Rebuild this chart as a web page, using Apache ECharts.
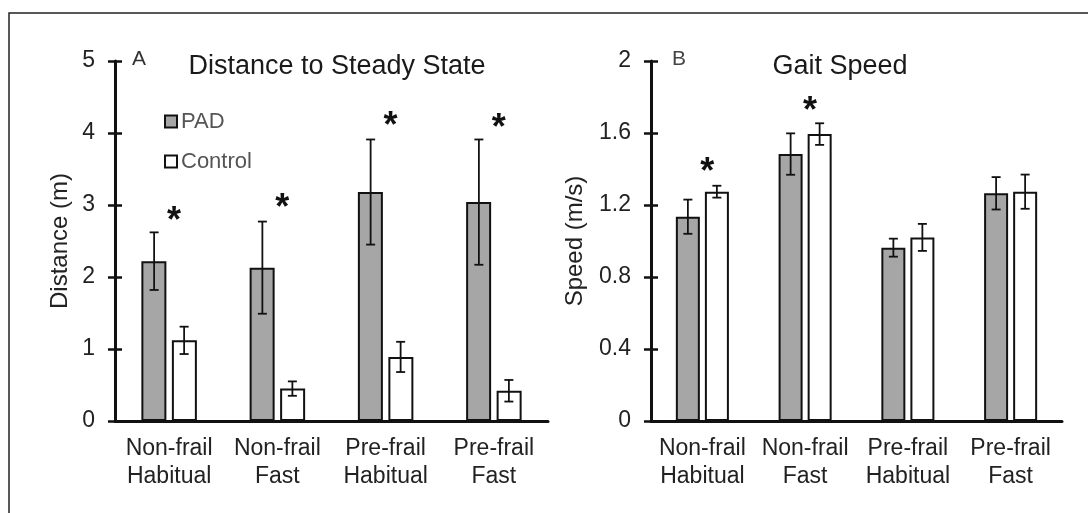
<!DOCTYPE html>
<html>
<head>
<meta charset="utf-8">
<script src="https://cdn.jsdelivr.net/npm/echarts@6/dist/echarts.min.js"></script>
<style>
html,body{margin:0;padding:0;background:#fff;}
#c{width:1088px;height:513px;}
</style>
</head>
<body>
<div id="c"></div>
<script>
// ---- data ----
var categories = ['Non-frail\nHabitual', 'Non-frail\nFast', 'Pre-frail\nHabitual', 'Pre-frail\nFast'];
var seriesNames = ['PAD', 'Control'];

var distPAD = [2.22, 2.13, 3.18, 3.04];
var distPADErr = [0.40, 0.64, 0.73, 0.87];
var distCtrl = [1.12, 0.45, 0.89, 0.42];
var distCtrlErr = [0.19, 0.10, 0.21, 0.15];
var distStarY = [2.86, 3.04, 4.18, 4.15];

var speedPAD = [1.135, 1.483, 0.963, 1.265];
var speedPADErr = [0.095, 0.115, 0.05, 0.09];
var speedCtrl = [1.274, 1.594, 1.02, 1.274];
var speedCtrlErr = [0.033, 0.06, 0.075, 0.095];
var speedStarY = [1.415, 1.756, null, null];

var distTicks = [0, 1, 2, 3, 4, 5];
var speedTicks = [0, 0.4, 0.8, 1.2, 1.6, 2];

// ---- styling ----
var FONT = '"Liberation Sans", Arial, sans-serif';
var PAD_COLOR = '#a6a6a6';
var chart = echarts.init(document.getElementById('c'), null, {renderer: 'canvas'});

function errData(vals, errs) {
  return vals.map(function (v, i) { return [i, v, errs[i]]; });
}
function starData(ys) {
  var out = [];
  ys.forEach(function (y, i) { if (y != null) out.push([i, y]); });
  return out;
}
function errSeries(name, xi, yi, data, offset) {
  return {
    type: 'custom', name: name + ' err', xAxisIndex: xi, yAxisIndex: yi, z: 10,
    data: data, silent: true,
    renderItem: function (params, api) {
      var c = api.value(0), v = api.value(1), e = api.value(2);
      var top = api.coord([c, v + e]);
      var bot = api.coord([c, v - e]);
      var x = top[0] + offset;
      var hw = 4.5;
      var st = {stroke: '#111', lineWidth: 1.8};
      return {type: 'group', children: [
        {type: 'line', shape: {x1: x, y1: top[1], x2: x, y2: bot[1]}, style: st},
        {type: 'line', shape: {x1: x - hw, y1: top[1], x2: x + hw, y2: top[1]}, style: st},
        {type: 'line', shape: {x1: x - hw, y1: bot[1], x2: x + hw, y2: bot[1]}, style: st}
      ]};
    }
  };
}
function starSeries(xi, yi, data) {
  return {
    type: 'custom', xAxisIndex: xi, yAxisIndex: yi, z: 11, silent: true, data: data,
    renderItem: function (params, api) {
      var p = api.coord([api.value(0), api.value(1)]);
      return {type: 'text', x: p[0] + 5, y: p[1] + 7,
        style: {text: '*', font: 'bold 36px ' + FONT, fill: '#111', align: 'center', verticalAlign: 'middle'}};
    }
  };
}
function barSeries(name, xi, yi, data, color, width, gap) {
  return {
    type: 'bar', name: name, xAxisIndex: xi, yAxisIndex: yi, data: data,
    barWidth: width, barGap: gap,
    itemStyle: {color: color, borderColor: '#111', borderWidth: 2},
    emphasis: {disabled: true}, z: 5
  };
}
function xAxis(gi) {
  return {
    type: 'category', gridIndex: gi, data: categories,
    axisLine: {lineStyle: {color: '#111', width: 3}},
    axisTick: {show: false},
    axisLabel: {color: '#222', fontSize: 23, fontFamily: FONT, lineHeight: 28, margin: 14, interval: 0}
  };
}
function yAxis(gi, ticks, name, gap, inner) {
  var n = ticks.length;
  return {
    type: 'value', gridIndex: gi, position: 'left', min: ticks[0], max: ticks[n - 1], interval: ticks[1] - ticks[0],
    name: inner ? '' : name, nameLocation: 'middle', nameGap: gap, nameRotate: 90,
    nameTextStyle: {color: '#222', fontSize: 24, fontFamily: FONT},
    splitLine: {show: false},
    axisLine: {show: !inner, lineStyle: {color: '#111', width: 3}},
    axisTick: {show: true, inside: !!inner, length: 7, lineStyle: {color: '#111', width: 2.5}},
    axisLabel: {show: !inner, color: '#222', fontSize: 23, fontFamily: FONT, margin: 20,
      formatter: function (v) { return String(Math.round(v * 10) / 10); }}
  };
}

var option = {
  animation: false,
  backgroundColor: '#fff',
  grid: [
    {left: 115, top: 61, width: 433, height: 360},
    {left: 651, top: 61, width: 411, height: 360}
  ],
  xAxis: [xAxis(0), xAxis(1)],
  yAxis: [
    yAxis(0, distTicks, 'Distance (m)', 43, false),
    yAxis(1, speedTicks, 'Speed (m/s)', 64, false),
    yAxis(0, distTicks, '', 0, true),
    yAxis(1, speedTicks, '', 0, true)
  ],
  legend: {
    data: seriesNames, orient: 'vertical', left: 159, top: 103,
    itemWidth: 12, itemHeight: 12, itemGap: 13, icon: 'rect',
    textStyle: {color: '#555', fontSize: 22, fontFamily: FONT, lineHeight: 27, padding: [0, 0, 0, -1]},
    selectedMode: false
  },
  graphic: [
    {type: 'rect', shape: {x: 9, y: 13, width: 1100, height: 520}, style: {fill: 'none', stroke: '#222', lineWidth: 1.5}, silent: true},
    {type: 'text', x: 337, y: 67, style: {text: 'Distance to Steady State', font: '27px ' + FONT, fill: '#1a1a1a', align: 'center', verticalAlign: 'middle'}},
    {type: 'text', x: 840, y: 67, style: {text: 'Gait Speed', font: '27px ' + FONT, fill: '#1a1a1a', align: 'center', verticalAlign: 'middle'}},
    {type: 'text', x: 139, y: 59, style: {text: 'A', font: '21px ' + FONT, fill: '#333', align: 'center', verticalAlign: 'middle'}},
    {type: 'text', x: 679, y: 59, style: {text: 'B', font: '21px ' + FONT, fill: '#444', align: 'center', verticalAlign: 'middle'}}
  ],
  series: [
    barSeries('PAD', 0, 0, distPAD, PAD_COLOR, 25, '22%'),
    barSeries('Control', 0, 0, distCtrl, '#ffffff', 25, '22%'),
    errSeries('PAD', 0, 0, errData(distPAD, distPADErr), -15),
    errSeries('Control', 0, 0, errData(distCtrl, distCtrlErr), 15),
    starSeries(0, 0, starData(distStarY)),
    barSeries('PAD', 1, 1, speedPAD, PAD_COLOR, 24, '21%'),
    barSeries('Control', 1, 1, speedCtrl, '#ffffff', 24, '21%'),
    errSeries('PAD', 1, 1, errData(speedPAD, speedPADErr), -14.5),
    errSeries('Control', 1, 1, errData(speedCtrl, speedCtrlErr), 14.5),
    starSeries(1, 1, starData(speedStarY))
  ]
};
chart.setOption(option);
</script>
</body>
</html>
